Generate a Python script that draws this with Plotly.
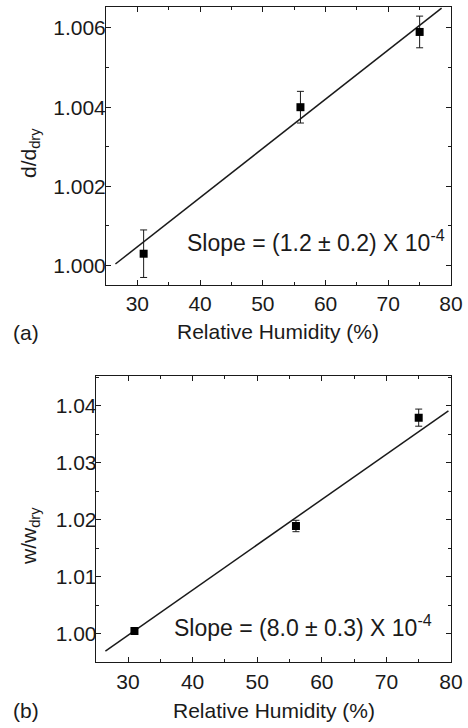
import plotly.graph_objects as go

# ---- data ----
rh = [31, 56, 75]

d_ratio = [1.0003, 1.0040, 1.0059]
d_err = [0.0006, 0.0004, 0.0004]
d_fit_x = [26.5, 78.5]
d_fit_y = [1.00004, 1.0065]

w_ratio = [1.0005, 1.0189, 1.0379]
w_err = [0.0003, 0.0010, 0.0015]
w_fit_x = [26.5, 79.6]
w_fit_y = [0.99696, 1.0391]

x_ticks = [30, 40, 50, 60, 70, 80]
d_ticks = [1.000, 1.002, 1.004, 1.006]
d_tick_text = ["1.000", "1.002", "1.004", "1.006"]
w_ticks = [1.00, 1.01, 1.02, 1.03, 1.04]
w_tick_text = ["1.00", "1.01", "1.02", "1.03", "1.04"]

INK = "#1a1a1a"
FONT = "Liberation Sans, Arial, sans-serif"

W, H = 468, 728


def px_x(p):
    return min(1.0, max(0.0, p / W))


def px_y(p):
    return min(1.0, max(0.0, 1 - p / H))


fig = go.Figure()

# panel (a)
fig.add_trace(go.Scatter(x=d_fit_x, y=d_fit_y, mode="lines",
                         line=dict(color=INK, width=1.5),
                         xaxis="x", yaxis="y", showlegend=False))
fig.add_trace(go.Scatter(x=rh, y=d_ratio, mode="markers",
                         marker=dict(symbol="square", size=8, color="black"),
                         error_y=dict(type="data", array=d_err, color=INK, thickness=1, width=3.5),
                         xaxis="x", yaxis="y", showlegend=False))
# panel (b)
fig.add_trace(go.Scatter(x=w_fit_x, y=w_fit_y, mode="lines",
                         line=dict(color=INK, width=1.5),
                         xaxis="x2", yaxis="y2", showlegend=False))
fig.add_trace(go.Scatter(x=rh, y=w_ratio, mode="markers",
                         marker=dict(symbol="square", size=8, color="black"),
                         error_y=dict(type="data", array=w_err, color=INK, thickness=1, width=3.5),
                         xaxis="x2", yaxis="y2", showlegend=False))

axis_common = dict(
    showline=True, linecolor=INK, linewidth=1, mirror="allticks",
    ticks="inside", ticklen=5, tickwidth=1, tickcolor=INK,
    showgrid=False, zeroline=False, automargin=False,
    tickfont=dict(family=FONT, size=21, color=INK),
)

fig.update_layout(
    width=W, height=H,
    margin=dict(l=0, r=0, t=0, b=0),
    paper_bgcolor="white", plot_bgcolor="white",
    font=dict(family=FONT, color=INK),
    xaxis=dict(domain=[px_x(106), px_x(451)], range=[25, 80], anchor="y",
               tickvals=x_ticks, ticklabelstandoff=0,
               minor=dict(ticks="inside", ticklen=3, dtick=5, tickcolor=INK, showgrid=False),
               **axis_common),
    yaxis=dict(domain=[px_y(285), px_y(7)], range=[0.99951, 1.00653], anchor="x",
               tickvals=d_ticks, ticktext=d_tick_text, ticklabelstandoff=-5,
               minor=dict(ticks="inside", ticklen=3, dtick=0.001, tick0=1.0, tickcolor=INK, showgrid=False),
               **axis_common),
    xaxis2=dict(domain=[px_x(95.7), px_x(451)], range=[25, 80], anchor="y2",
                tickvals=x_ticks, ticklabelstandoff=0,
                minor=dict(ticks="inside", ticklen=3, dtick=5, tickcolor=INK, showgrid=False),
                **axis_common),
    yaxis2=dict(domain=[px_y(662.3), px_y(376)], range=[0.995, 1.0452], anchor="x2",
                tickvals=w_ticks, ticktext=w_tick_text, ticklabelstandoff=-6,
                minor=dict(ticks="inside", ticklen=3, dtick=0.005, tick0=1.0, tickcolor=INK, showgrid=False),
                **axis_common),
)

annotations = [
    # axis titles
    dict(text="Relative Humidity (%)", x=278, y=332, size=21),
    dict(text="Relative Humidity (%)", x=274, y=710, size=21),
    dict(text="d/d<sub>dry</sub>", x=30, y=153, size=21, textangle=-90),
    dict(text="w/w<sub>dry</sub>", x=30, y=536, size=21, textangle=-90),
    # panel labels
    dict(text="(a)", x=26, y=333, size=21),
    dict(text="(b)", x=26, y=710, size=21),
    # slope annotations
    dict(text="Slope = (1.2 ± 0.2) X 10<sup>-4</sup>", x=316, y=241, size=23),
    dict(text="Slope = (8.0 ± 0.3) X 10<sup>-4</sup>", x=303, y=626, size=23),
]
for a in annotations:
    fig.add_annotation(
        text=a["text"], x=px_x(a["x"]), y=px_y(a["y"]),
        xref="paper", yref="paper", showarrow=False,
        xanchor="center", yanchor="middle",
        textangle=a.get("textangle", 0),
        font=dict(family=FONT, size=a["size"], color=INK),
    )

# remove the default 8px page margin so the 468x728 figure fills the window
fig.write_html("out.html", config={"displayModeBar": False},
               post_script="document.body.style.margin='0';")
